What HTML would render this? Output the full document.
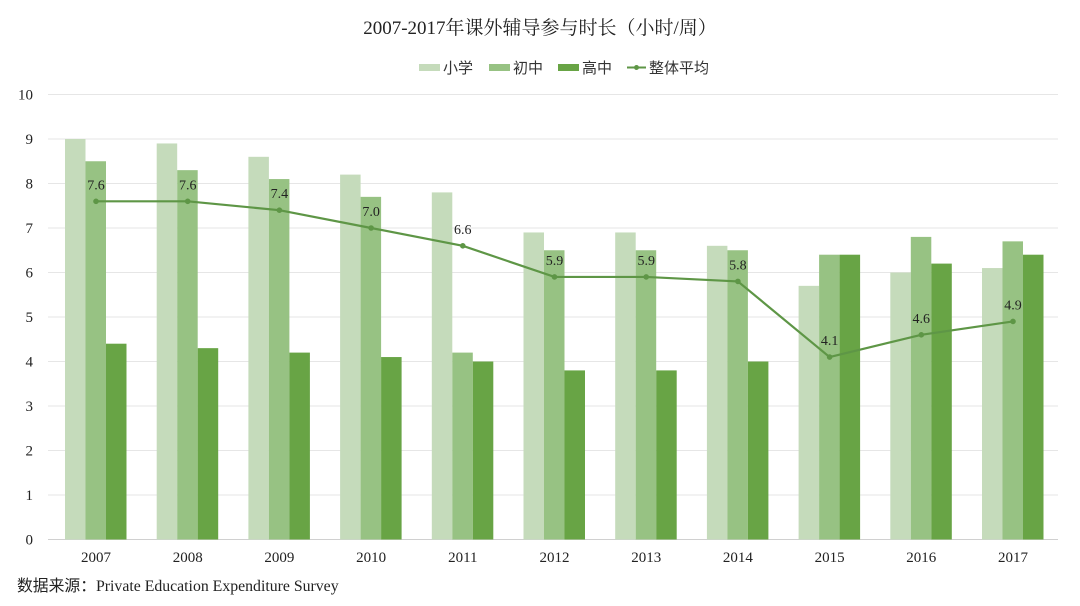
<!DOCTYPE html>
<html><head><meta charset="utf-8"><style>
html,body{margin:0;padding:0;background:#fff;}
svg{display:block;}
text{font-family:"Liberation Serif","Noto Serif CJK SC",serif;}
.cj{font-family:"Liberation Sans","Noto Sans CJK SC",sans-serif;}
</style></head><body>
<svg id="s" width="1080" height="606" xmlns="http://www.w3.org/2000/svg">
<text x="540" y="34" text-anchor="middle" font-size="19" fill="#222" font-family="Liberation Serif, Noto Serif CJK SC, serif">2007-2017年课外辅导参与时长（小时/周）</text>
<rect x="419" y="64" width="21" height="7" fill="#c5dbbb"/><text class="cj" x="443" y="73" font-size="15" fill="#333">小学</text>
<rect x="489" y="64" width="21" height="7" fill="#97c283"/><text class="cj" x="513" y="73" font-size="15" fill="#333">初中</text>
<rect x="558" y="64" width="21" height="7" fill="#68a445"/><text class="cj" x="582" y="73" font-size="15" fill="#333">高中</text>
<line x1="627" y1="67.5" x2="646" y2="67.5" stroke="#5e9646" stroke-width="2"/><circle cx="636.5" cy="67.5" r="2.5" fill="#5e9646"/><text class="cj" x="649" y="73" font-size="15" fill="#333">整体平均</text>
<g id="g"></g>
<text class="cj" x="17" y="591" font-size="15.8" fill="#222">数据来源：<tspan font-family="Liberation Serif, serif">Private Education Expenditure Survey</tspan></text>
</svg>
<script>
var g=document.getElementById('g'),h='';
function Y(v){return 539.5-44.5*v;}
for(var i=0;i<=10;i++){h+='<line x1="48" x2="1058" y1="'+Y(i)+'" y2="'+Y(i)+'" stroke="'+(i==0?'#d0d0d0':'#e6e6e6')+'" stroke-width="1"/>';
h+='<text x="33" y="'+(Y(i)+5)+'" text-anchor="end" font-size="15" fill="#222">'+i+'</text>';}
var a=[9,8.9,8.6,8.2,7.8,6.9,6.9,6.6,5.7,6.0,6.1],b=[8.5,8.3,8.1,7.7,4.2,6.5,6.5,6.5,6.4,6.8,6.7],c=[4.4,4.3,4.2,4.1,4.0,3.8,3.8,4.0,6.4,6.2,6.4],m=[7.6,7.6,7.4,7.0,6.6,5.9,5.9,5.8,4.1,4.6,4.9];
var pts=[];
for(var i=0;i<11;i++){var x=96+91.7*i;
h+='<rect x="'+(x-31)+'" y="'+Y(a[i])+'" width="20.5" height="'+(44.5*a[i])+'" fill="#c5dbbb"/>';
h+='<rect x="'+(x-10.5)+'" y="'+Y(b[i])+'" width="20.5" height="'+(44.5*b[i])+'" fill="#97c283"/>';
h+='<rect x="'+(x+10)+'" y="'+Y(c[i])+'" width="20.5" height="'+(44.5*c[i])+'" fill="#68a445"/>';
h+='<text x="'+x+'" y="562" text-anchor="middle" font-size="15" fill="#222">'+(2007+i)+'</text>';
pts.push(x+','+Y(m[i]));}
h+='<polyline points="'+pts.join(' ')+'" fill="none" stroke="#5e9646" stroke-width="2.2"/>';
for(var i=0;i<11;i++){var x=96+91.7*i;h+='<circle cx="'+x+'" cy="'+Y(m[i])+'" r="2.8" fill="#5e9646"/>';
h+='<text x="'+x+'" y="'+(Y(m[i])-12)+'" text-anchor="middle" font-size="14" fill="#222">'+m[i].toFixed(1)+'</text>';}
g.innerHTML=h;
</script>
</body></html>
